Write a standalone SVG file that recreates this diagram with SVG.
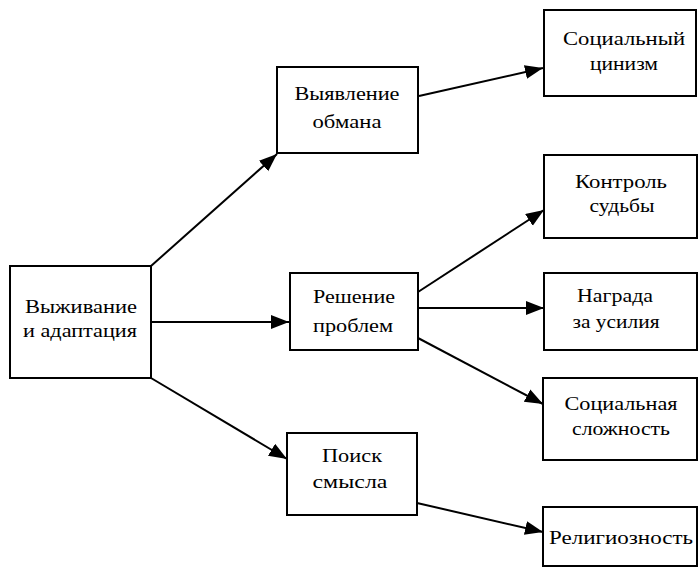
<svg xmlns="http://www.w3.org/2000/svg" width="700" height="568" viewBox="0 0 700 568">
<defs>
<marker id="ah" markerUnits="userSpaceOnUse" markerWidth="20" markerHeight="16" refX="18" refY="7" orient="auto">
<path d="M0,0 L18,7 L0,14 Z" fill="#000"/>
</marker>
<style>
.box{fill:#fff;stroke:#000;stroke-width:2}
.t{font-family:"Liberation Serif","Times New Roman",serif;font-size:19px;fill:#000;text-anchor:middle}
.c{stroke:#000;stroke-width:2;fill:none;marker-end:url(#ah)}
</style>
</defs>
<rect width="700" height="568" fill="#fff"/>
<g id="connectors">
<line class="c" x1="151" y1="266" x2="277" y2="154"/>
<line class="c" x1="151" y1="322" x2="289" y2="322"/>
<line class="c" x1="151" y1="378" x2="287" y2="459"/>
<line class="c" x1="419" y1="96" x2="543" y2="68"/>
<line class="c" x1="418" y1="292" x2="544" y2="210"/>
<line class="c" x1="418" y1="308" x2="544" y2="308"/>
<line class="c" x1="418" y1="338" x2="543" y2="404"/>
<line class="c" x1="417" y1="503" x2="543" y2="532"/>
</g>
<g id="n-survival">
<rect class="box" x="10" y="266" width="141" height="112"/>
<text class="t" x="81" y="313" textLength="112" lengthAdjust="spacingAndGlyphs">Выживание</text>
<text class="t" x="80" y="337" textLength="114" lengthAdjust="spacingAndGlyphs">и адаптация</text>
</g>
<g id="n-deceit">
<rect class="box" x="277" y="67" width="141" height="86"/>
<text class="t" x="347" y="100" textLength="105" lengthAdjust="spacingAndGlyphs">Выявление</text>
<text class="t" x="347" y="128" textLength="69" lengthAdjust="spacingAndGlyphs">обмана</text>
</g>
<g id="n-problem">
<rect class="box" x="290" y="273" width="128" height="77"/>
<text class="t" x="354" y="303" textLength="82" lengthAdjust="spacingAndGlyphs">Решение</text>
<text class="t" x="353" y="332" textLength="80" lengthAdjust="spacingAndGlyphs">проблем</text>
</g>
<g id="n-meaning">
<rect class="box" x="287" y="433" width="130" height="82"/>
<text class="t" x="352" y="462" textLength="60" lengthAdjust="spacingAndGlyphs">Поиск</text>
<text class="t" x="350" y="488" textLength="75" lengthAdjust="spacingAndGlyphs">смысла</text>
</g>
<g id="n-cynicism">
<rect class="box" x="544" y="10" width="152" height="86"/>
<text class="t" x="624" y="45" textLength="122" lengthAdjust="spacingAndGlyphs">Социальный</text>
<text class="t" x="624" y="70" textLength="68" lengthAdjust="spacingAndGlyphs">цинизм</text>
</g>
<g id="n-fate">
<rect class="box" x="544" y="155" width="153" height="83"/>
<text class="t" x="621" y="188" textLength="92" lengthAdjust="spacingAndGlyphs">Контроль</text>
<text class="t" x="622" y="212" textLength="65" lengthAdjust="spacingAndGlyphs">судьбы</text>
</g>
<g id="n-reward">
<rect class="box" x="544" y="273" width="153" height="77"/>
<text class="t" x="615" y="302" textLength="76" lengthAdjust="spacingAndGlyphs">Награда</text>
<text class="t" x="616" y="328" textLength="87" lengthAdjust="spacingAndGlyphs">за усилия</text>
</g>
<g id="n-complexity">
<rect class="box" x="543" y="378" width="154" height="82"/>
<text class="t" x="621" y="410" textLength="113" lengthAdjust="spacingAndGlyphs">Социальная</text>
<text class="t" x="621" y="435" textLength="98" lengthAdjust="spacingAndGlyphs">сложность</text>
</g>
<g id="n-religiosity">
<rect class="box" x="543" y="507" width="154" height="59"/>
<text class="t" x="621" y="544" textLength="144" lengthAdjust="spacingAndGlyphs">Религиозность</text>
</g>
</svg>
